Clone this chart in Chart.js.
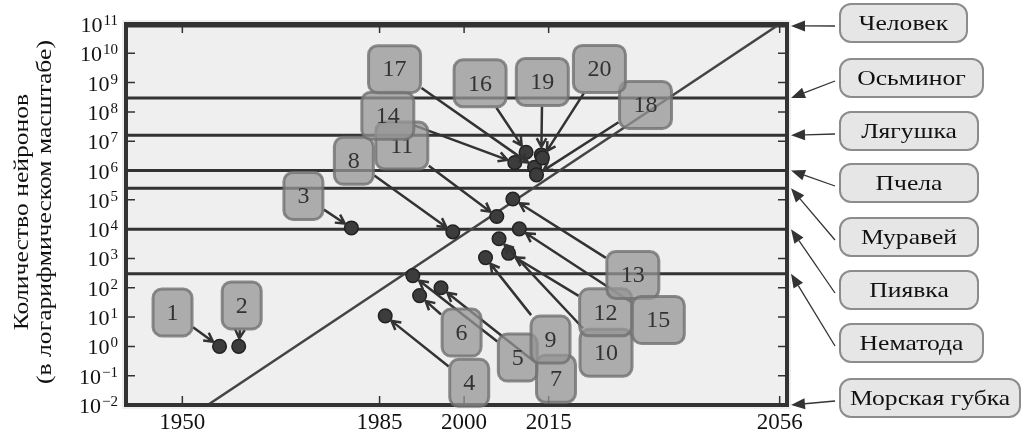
<!DOCTYPE html>
<html>
<head>
<meta charset="utf-8">
<script src="https://cdn.jsdelivr.net/npm/chart.js@4.4.1/dist/chart.umd.min.js"></script>
<style>
  html, body { margin: 0; padding: 0; background: #fff; }
  canvas { display: block; }
</style>
</head>
<body>
<canvas id="chart" width="1028" height="438"></canvas>
<script>
// network sizes (number of neurons by year)
var netNames = ["1","2","3","4","5","6","7","8","9","10","11","12","13","14","15","16","17","18","19","20"];
var netYears = [1956.6, 1960.0, 1980.0, 1986.0, 1990.9, 1992.1, 1995.9, 1998.0, 2003.8, 2006.2,
                2005.8, 2007.9, 2008.65, 2009.0, 2009.8, 2011.0, 2012.5, 2012.85, 2013.7, 2013.9];
var netNeurons = [1, 1, 1.1e4, 11, 260, 54, 100, 8100, 1070, 4700,
                  2.7e4, 1500, 1.07e5, 1.86e6, 1.02e4, 4.2e6, 1.3e6, 7.1e5, 3.4e6, 2.7e6];

// biological reference levels
var species = ["Человек", "Осьминог", "Лягушка", "Пчела", "Муравей", "Пиявка", "Нематода", "Морская губка"];
var speciesNeurons = [8.6e10, 3e8, 1.6e7, 1e6, 2.5e5, 1e4, 302, 1e-2];

// trend line
var trendYears = [1954.5, 2056];
var trendNeurons = [1e-2, 1e11];

// axes
var xTicks = [1950, 1985, 2000, 2015, 2056];
var yExponents = [-2, -1, 0, 1, 2, 3, 4, 5, 6, 7, 8, 9, 10, 11];
var xMin = 1940, xMax = 2057.3;

// label placement (pixel offsets of the number boxes from their point)
var boxOffsets = [[-47,-34],[3,-41],[-48,-32],[84,67],[105,82],[42,37],[115,91],[-99,-71],[65,82],[107,114],
                  [-95,-71],[97,59],[120,76],[-127,-47],[139,91],[-46,-69],[-140,-98],[109,-70],[1,-73],[57,-89]];
// species boxes on the right
var speciesBoxY = [23, 78, 131, 183, 237, 290, 343, 398];
var speciesBoxW = [127, 143, 138, 138, 138, 138, 143, 180];

var SERIF = '"Liberation Serif", "DejaVu Serif", serif';
var DARK = "#333";
var WIDE = 1.22; // the source font is wider than Liberation Serif

function roundRect(ctx, x, y, w, h, r) {
    ctx.beginPath();
    ctx.moveTo(x + r, y);
    ctx.arcTo(x + w, y, x + w, y + h, r);
    ctx.arcTo(x + w, y + h, x, y + h, r);
    ctx.arcTo(x, y + h, x, y, r);
    ctx.arcTo(x, y, x + w, y, r);
    ctx.closePath();
}

function wideText(ctx, text, x, y) {
    ctx.save();
    ctx.translate(x, y);
    ctx.scale(WIDE, 1);
    ctx.fillText(text, 0, 0);
    ctx.restore();
}

function edgePoint(cx, cy, hw, hh, tx, ty) {
    var dx = tx - cx, dy = ty - cy;
    var s = Math.min(dx ? hw / Math.abs(dx) : Infinity, dy ? hh / Math.abs(dy) : Infinity);
    return [cx + dx * s, cy + dy * s];
}

function openArrow(ctx, x0, y0, x1, y1) {
    var a = Math.atan2(y1 - y0, x1 - x0), L = 10, sp = 0.5;
    ctx.beginPath();
    ctx.moveTo(x0, y0); ctx.lineTo(x1, y1);
    ctx.moveTo(x1 - L * Math.cos(a - sp), y1 - L * Math.sin(a - sp));
    ctx.lineTo(x1, y1);
    ctx.lineTo(x1 - L * Math.cos(a + sp), y1 - L * Math.sin(a + sp));
    ctx.stroke();
}

function filledArrow(ctx, x0, y0, x1, y1) {
    var a = Math.atan2(y1 - y0, x1 - x0), L = 14, W = 5.5;
    var bx = x1 - L * Math.cos(a), by = y1 - L * Math.sin(a);
    ctx.beginPath(); ctx.moveTo(x0, y0); ctx.lineTo(bx, by); ctx.stroke();
    ctx.beginPath();
    ctx.moveTo(x1, y1);
    ctx.lineTo(bx + W * Math.sin(a), by - W * Math.cos(a));
    ctx.lineTo(bx - W * Math.sin(a), by + W * Math.cos(a));
    ctx.closePath(); ctx.fill();
}

var background = {
    id: "background",
    beforeDatasetsDraw: function(chart) {
        var a = chart.chartArea, ctx = chart.ctx;
        ctx.save();
        ctx.fillStyle = "#efefef";
        ctx.fillRect(a.left - 4, a.top - 4, a.right - a.left + 8, a.bottom - a.top + 8);
        ctx.restore();
    }
};

var decorations = {
    id: "decorations",
    afterDatasetsDraw: function(chart) {
        var a = chart.chartArea, ctx = chart.ctx;
        var xs = chart.scales.x, ys = chart.scales.y;
        ctx.save();

        // frame
        ctx.strokeStyle = DARK;
        ctx.lineWidth = 4;
        ctx.strokeRect(a.left, a.top, a.right - a.left, a.bottom - a.top);

        // inward ticks
        ctx.lineWidth = 1.5;
        ctx.beginPath();
        yExponents.forEach(function(e) {
            var y = ys.getPixelForValue(Math.pow(10, e));
            ctx.moveTo(a.left, y); ctx.lineTo(a.left + 9, y);
            ctx.moveTo(a.right, y); ctx.lineTo(a.right - 9, y);
        });
        xTicks.forEach(function(t) {
            var x = xs.getPixelForValue(t);
            ctx.moveTo(x, a.bottom); ctx.lineTo(x, a.bottom - 9);
            ctx.moveTo(x, a.top); ctx.lineTo(x, a.top + 9);
        });
        ctx.stroke();

        // tick labels
        ctx.fillStyle = "#111";
        ctx.textBaseline = "alphabetic";
        yExponents.forEach(function(e) {
            var y = ys.getPixelForValue(Math.pow(10, e));
            var ex = e < 0 ? "\u2212" + (-e) : String(e);
            ctx.font = "15px " + SERIF;
            var ew = ctx.measureText(ex).width;
            ctx.textAlign = "left";
            ctx.fillText(ex, 118 - ew, y + 1);
            ctx.font = "22px " + SERIF;
            ctx.textAlign = "right";
            ctx.fillText("10", 117 - ew, y + 8);
        });
        ctx.font = "23px " + SERIF;
        ctx.textAlign = "center";
        ctx.textBaseline = "middle";
        xTicks.forEach(function(t) {
            ctx.fillText(String(t), xs.getPixelForValue(t), 423);
        });

        // y title
        ctx.save();
        ctx.translate(0, 212);
        ctx.rotate(-Math.PI / 2);
        ctx.font = "21px " + SERIF;
        wideText(ctx, "Количество нейронов", 0, 22);
        wideText(ctx, "(в логарифмическом масштабе)", 0, 45);
        ctx.restore();

        // number boxes with arrows
        netNames.forEach(function(name, i) {
            var px = xs.getPixelForValue(netYears[i]);
            var py = ys.getPixelForValue(netNeurons[i]);
            var cx = px + boxOffsets[i][0], cy = py + boxOffsets[i][1];
            var hw = name.length > 1 ? 26 : 19.5, hh = 23.5;
            var s = edgePoint(cx, cy, hw + 1, hh + 1, px, py);
            var dx = px - s[0], dy = py - s[1], d = Math.sqrt(dx * dx + dy * dy);
            ctx.strokeStyle = DARK;
            ctx.lineWidth = 2.5;
            openArrow(ctx, s[0], s[1], px - dx / d * 8, py - dy / d * 8);
        });
        netNames.forEach(function(name, i) {
            var px = xs.getPixelForValue(netYears[i]);
            var py = ys.getPixelForValue(netNeurons[i]);
            var cx = px + boxOffsets[i][0], cy = py + boxOffsets[i][1];
            var hw = name.length > 1 ? 26 : 19.5, hh = 23.5;
            roundRect(ctx, cx - hw, cy - hh, hw * 2, hh * 2, 9);
            ctx.fillStyle = "rgba(149,149,149,0.75)";
            ctx.fill();
            ctx.strokeStyle = "rgba(112,112,112,0.8)";
            ctx.lineWidth = 3;
            ctx.stroke();
            ctx.fillStyle = DARK;
            ctx.font = "24px " + SERIF;
            ctx.textAlign = "center";
            ctx.textBaseline = "middle";
            ctx.fillText(name, cx, cy + 1);
        });

        // species labels on the right
        species.forEach(function(name, i) {
            var cy = speciesBoxY[i], w = speciesBoxW[i], h = 38, left = 840;
            var ty = ys.getPixelForValue(speciesNeurons[i]);
            ctx.strokeStyle = DARK;
            ctx.fillStyle = DARK;
            ctx.lineWidth = 1.3;
            filledArrow(ctx, left - 5, cy + 3, a.right + 4, ty);
            roundRect(ctx, left, cy - h / 2, w, h, 11);
            ctx.fillStyle = "#e6e6e6";
            ctx.fill();
            ctx.strokeStyle = "#8c8c8c";
            ctx.lineWidth = 2;
            ctx.stroke();
            ctx.fillStyle = "#111";
            ctx.font = "21px " + SERIF;
            ctx.textAlign = "center";
            ctx.textBaseline = "middle";
            wideText(ctx, name, left + w / 2, cy + 1);
        });

        ctx.restore();
    }
};

var datasets = [{
    type: "scatter",
    data: netYears.map(function(y, i) { return { x: y, y: netNeurons[i] }; }),
    pointRadius: 6.8,
    backgroundColor: "#3c3c3c",
    borderColor: "#222",
    borderWidth: 1.5,
    order: 0
}, {
    type: "line",
    data: trendYears.map(function(y, i) { return { x: y, y: trendNeurons[i] }; }),
    borderColor: "#444",
    borderWidth: 2.5,
    pointRadius: 0,
    order: 1
}];
speciesNeurons.forEach(function(v) {
    datasets.push({
        type: "line",
        data: [{ x: xMin, y: v }, { x: xMax, y: v }],
        borderColor: DARK,
        borderWidth: 3,
        pointRadius: 0,
        order: 2
    });
});

new Chart(document.getElementById("chart"), {
    type: "scatter",
    data: { datasets: datasets },
    options: {
        responsive: false,
        animation: false,
        devicePixelRatio: 1,
        layout: { padding: { left: 126, right: 241, top: 24, bottom: 33 } },
        scales: {
            x: { type: "linear", min: xMin, max: xMax, display: false },
            y: { type: "logarithmic", min: 1e-2, max: 1e11, display: false }
        },
        plugins: { legend: { display: false }, tooltip: { enabled: false } }
    },
    plugins: [background, decorations]
});
</script>
</body>
</html>
